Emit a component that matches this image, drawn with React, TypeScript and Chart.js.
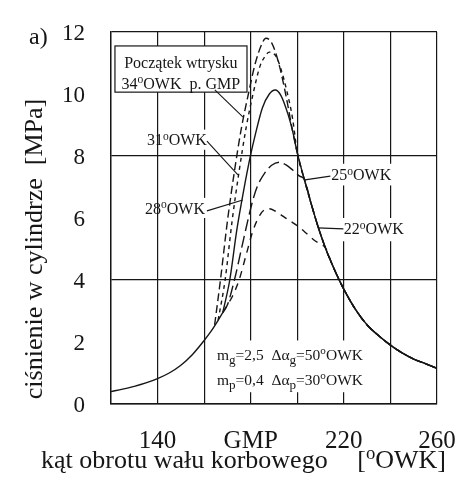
import React, { useEffect, useRef } from "react";
import { Chart, registerables } from "chart.js";

Chart.register(...registerables);

// ---------- axis data ----------
const X_MIN = 120;
const X_MAX = 260;
const Y_MIN = 0;
const Y_MAX = 12;
const xTickValues = [120, 140, 160, 180, 200, 220, 240, 260];
const xTickLabels = ["", "140", "", "GMP", "", "220", "", "260"];
const yTickValues = [0, 2, 4, 6, 8, 10, 12];
const yTickLabels = ["0", "2", "4", "6", "8", "10", "12"];
const yGridShown = [0, 4, 8, 12];

// ---------- series data (crank angle [deg], pressure [MPa]) ----------
const compressionAngle = [120, 125, 130, 135, 140, 145, 150, 155, 160, 163, 166, 168];
const compressionP = [0.4, 0.48, 0.57, 0.68, 0.82, 1.0, 1.25, 1.6, 2.05, 2.35, 2.7, 2.95];

// common expansion tail
const tailAngle = [200, 203, 206, 209, 212, 215, 218, 220, 225, 230, 235, 240, 245, 250, 255, 260];
const tailP = [8.1, 7.25, 6.45, 5.7, 5.05, 4.5, 4.0, 3.7, 3.05, 2.55, 2.2, 1.9, 1.65, 1.45, 1.3, 1.15];

// injection 34 deg before TDC
const inj34Angle = [164.5, 167, 170, 173, 176, 179, 182, 185, 186.5, 189, 192, 195, 198];
const inj34P = [2.55, 4.0, 5.9, 7.5, 8.9, 10.0, 11.0, 11.65, 11.8, 11.65, 11.0, 10.0, 8.8];

// injection 31 deg
const inj31Angle = [166, 169, 172, 175, 178, 181, 184, 186, 188, 191, 193, 195.5, 198];
const inj31P = [2.7, 4.0, 5.9, 7.5, 8.9, 10.0, 10.9, 11.2, 11.35, 11.2, 10.8, 10.1, 9.2];

// injection 28 deg
const inj28Angle = [168, 171, 174, 177, 180, 182, 185, 188, 190.5, 193, 196, 198];
const inj28P = [2.95, 4.0, 5.6, 6.9, 8.05, 8.7, 9.55, 10.0, 10.13, 9.95, 9.35, 8.8];

// injection 25 deg
const inj25Angle = [168, 170, 173, 176, 179, 181, 183, 186, 189, 192.5, 195, 198, 201];
const inj25P = [2.95, 3.2, 4.0, 5.0, 6.0, 6.6, 7.05, 7.45, 7.7, 7.8, 7.72, 7.55, 7.35];

// injection 22 deg
const inj22Angle = [168, 170, 172, 175, 178, 181, 184, 186, 188, 191, 194, 197, 200, 204, 207, 210];
const inj22P = [2.95, 3.2, 3.45, 4.0, 4.8, 5.6, 6.1, 6.27, 6.3, 6.2, 6.05, 5.9, 5.75, 5.5, 5.3, 5.15];

const FONT = '"Liberation Serif", "DejaVu Serif", serif';
const INK = "#161616";

function points(ang: number[], p: number[], withTail: boolean) {
  const pts = ang.map((a, i) => ({ x: a, y: p[i] }));
  if (withTail) {
    const last = ang[ang.length - 1];
    tailAngle.forEach((a, i) => {
      if (a > last + 1) pts.push({ x: a, y: tailP[i] });
    });
  }
  return pts;
}

type Seg = { t: string; k?: "sup" | "sub" };

function segSize(s: Seg, size: number) {
  return s.k === "sup" ? size * 0.72 : s.k === "sub" ? size * 0.85 : size;
}

function drawRich(
  ctx: CanvasRenderingContext2D,
  segs: Seg[],
  x: number,
  y: number,
  size: number,
  align: "left" | "center" | "right"
) {
  const widths = segs.map((s) => {
    ctx.font = `${segSize(s, size)}px ${FONT}`;
    return ctx.measureText(s.t).width;
  });
  const total = widths.reduce((a, b) => a + b, 0);
  let cx = align === "left" ? x : align === "center" ? x - total / 2 : x - total;
  ctx.textAlign = "left";
  ctx.textBaseline = "alphabetic";
  segs.forEach((s, i) => {
    ctx.font = `${segSize(s, size)}px ${FONT}`;
    const dy = s.k === "sup" ? -size * 0.36 : s.k === "sub" ? size * 0.28 : 0;
    ctx.fillText(s.t, cx, y + dy);
    cx += widths[i];
  });
  return total;
}

const labelsPlugin = {
  id: "labelsPlugin",
  beforeDatasetsDraw(chart: any) {
    const ctx: CanvasRenderingContext2D = chart.ctx;
    const xs = chart.scales.x;
    const ys = chart.scales.y;
    const X = (v: number) => xs.getPixelForValue(v);
    const Y = (v: number) => ys.getPixelForValue(v);
    ctx.save();
    ctx.fillStyle = "#ffffff";
    // white backgrounds of annotations
    ctx.fillRect(X(121.7), Y(11.55), X(178.4) - X(121.7), Y(10.06) - Y(11.55));
    ctx.fillRect(X(145.6), Y(8.85), X(162) - X(145.6), Y(8.2) - Y(8.85));
    ctx.fillRect(X(145), Y(6.65), X(162) - X(145), Y(6.0) - Y(6.65));
    ctx.fillRect(X(212.5), Y(7.75), X(244) - X(212.5), Y(7.05) - Y(7.75));
    ctx.fillRect(X(217.5), Y(6.0), X(250) - X(217.5), Y(5.25) - Y(6.0));
    ctx.fillRect(X(164), Y(2.05), X(229) - X(164), Y(0.38) - Y(2.05));

    // injection box
    ctx.strokeStyle = INK;
    ctx.lineWidth = 1.2;
    ctx.strokeRect(X(121.7), Y(11.55), X(178.4) - X(121.7), Y(10.06) - Y(11.55));
    ctx.fillStyle = INK;
    drawRich(ctx, [{ t: "Początek wtrysku" }], X(150), Y(11.03) + 5.5, 16, "center");
    drawRich(
      ctx,
      [{ t: "34" }, { t: "o", k: "sup" }, { t: "OWK  p. GMP" }],
      X(150),
      Y(10.35) + 5.5,
      16,
      "center"
    );
    // labels
    drawRich(ctx, [{ t: "31" }, { t: "o", k: "sup" }, { t: "OWK" }], X(148.3), Y(8.52) + 5.5, 16, "center");
    drawRich(ctx, [{ t: "28" }, { t: "o", k: "sup" }, { t: "OWK" }], X(147.5), Y(6.32) + 5.5, 16, "center");
    drawRich(ctx, [{ t: "25" }, { t: "o", k: "sup" }, { t: "OWK" }], X(214.6), Y(7.39) + 5.5, 16, "left");
    drawRich(ctx, [{ t: "22" }, { t: "o", k: "sup" }, { t: "OWK" }], X(220), Y(5.65) + 5.5, 16, "left");
    drawRich(
      ctx,
      [{ t: "m" }, { t: "g", k: "sub" }, { t: "=2,5  Δα" }, { t: "g", k: "sub" }, { t: "=50" }, { t: "o", k: "sup" }, { t: "OWK" }],
      X(165.5),
      Y(1.55) + 4,
      15.5,
      "left"
    );
    drawRich(
      ctx,
      [{ t: "m" }, { t: "p", k: "sub" }, { t: "=0,4  Δα" }, { t: "p", k: "sub" }, { t: "=30" }, { t: "o", k: "sup" }, { t: "OWK" }],
      X(165.5),
      Y(0.75) + 4,
      15.5,
      "left"
    );

    // pointer lines
    ctx.lineWidth = 1.1;
    const line = (a: number, b: number, c: number, d: number) => {
      ctx.beginPath();
      ctx.moveTo(X(a), Y(b));
      ctx.lineTo(X(c), Y(d));
      ctx.stroke();
    };
    line(164.6, 10.13, 176.6, 9.26);
    line(161.2, 8.48, 174.5, 7.39);
    line(161.2, 6.23, 176.6, 6.58);
    line(203.3, 7.23, 214.2, 7.35);
    line(208.8, 5.68, 219.8, 5.65);
    ctx.restore();
  },
  afterDraw(chart: any) {
    const ctx: CanvasRenderingContext2D = chart.ctx;
    const xs = chart.scales.x;
    const ys = chart.scales.y;
    ctx.save();
    ctx.fillStyle = INK;
    ctx.textBaseline = "alphabetic";
    // y tick labels
    ctx.font = `23px ${FONT}`;
    ctx.textAlign = "right";
    yTickValues.forEach((v, i) => {
      ctx.fillText(yTickLabels[i], 85, ys.getPixelForValue(v) + 8);
    });
    // x tick labels
    ctx.font = `25px ${FONT}`;
    ctx.textAlign = "center";
    xTickValues.forEach((v, i) => {
      if (xTickLabels[i]) ctx.fillText(xTickLabels[i], xs.getPixelForValue(v), 448);
    });
    // x title
    ctx.font = `26px ${FONT}`;
    ctx.textAlign = "left";
    ctx.fillText("kąt obrotu wału korbowego", 41, 468);
    drawRich(ctx, [{ t: "[" }, { t: "o", k: "sup" }, { t: "OWK]" }], 446, 468, 26, "right");
    // y title
    ctx.save();
    ctx.translate(42, 249);
    ctx.rotate(-Math.PI / 2);
    ctx.font = `26px ${FONT}`;
    ctx.textAlign = "center";
    ctx.fillText("ciśnienie w cylindrze  [MPa]", 0, 0);
    ctx.restore();
    // panel label
    ctx.font = `24px ${FONT}`;
    ctx.textAlign = "left";
    ctx.fillText("a)", 29, 44);
    ctx.restore();
  },
};

export default function App() {
  const canvasRef = useRef<HTMLCanvasElement | null>(null);

  useEffect(() => {
    const canvas = canvasRef.current;
    if (!canvas) return;
    const base = {
      borderColor: INK,
      borderWidth: 1.4,
      pointRadius: 0,
      showLine: true,
      fill: false,
      cubicInterpolationMode: "monotone" as const,
    };
    const chart = new Chart(canvas, {
      type: "scatter",
      data: {
        datasets: [
          { ...base, label: "sprężanie", data: points(compressionAngle, compressionP, false) },
          { ...base, label: "34°OWK", data: points(inj34Angle, inj34P, true), borderDash: [8, 4] },
          { ...base, label: "31°OWK", data: points(inj31Angle, inj31P, true), borderDash: [4, 4] },
          { ...base, label: "28°OWK", data: points(inj28Angle, inj28P, true) },
          { ...base, label: "25°OWK", data: points(inj25Angle, inj25P, true), borderDash: [12, 5] },
          { ...base, label: "22°OWK", data: points(inj22Angle, inj22P, true), borderDash: [7, 6] },
        ],
      },
      options: {
        animation: false,
        responsive: false,
        devicePixelRatio: 1,
        layout: { padding: { left: 111, right: 32, top: 32, bottom: 82 } },
        plugins: {
          legend: { display: false },
          tooltip: { enabled: false },
          title: { display: false },
        },
        scales: {
          x: {
            type: "linear",
            min: X_MIN,
            max: X_MAX,
            ticks: { display: false, stepSize: 20 },
            grid: { color: INK, lineWidth: 1.2, drawTicks: false },
            border: { display: true, color: INK, width: 1.4 },
          },
          y: {
            type: "linear",
            min: Y_MIN,
            max: Y_MAX,
            ticks: { display: false, stepSize: 2 },
            grid: {
              drawTicks: false,
              lineWidth: 1.2,
              color: (c: any) => (yGridShown.includes(c.tick?.value) ? INK : "rgba(0,0,0,0)"),
            },
            border: { display: true, color: INK, width: 1.4 },
          },
        },
      },
      plugins: [labelsPlugin],
    });
    return () => chart.destroy();
  }, []);

  return (
    <div style={{ position: "fixed", left: 0, top: 0, width: 469, height: 486, background: "#ffffff" }}>
      <canvas ref={canvasRef} width={469} height={486} style={{ display: "block" }} />
    </div>
  );
}
